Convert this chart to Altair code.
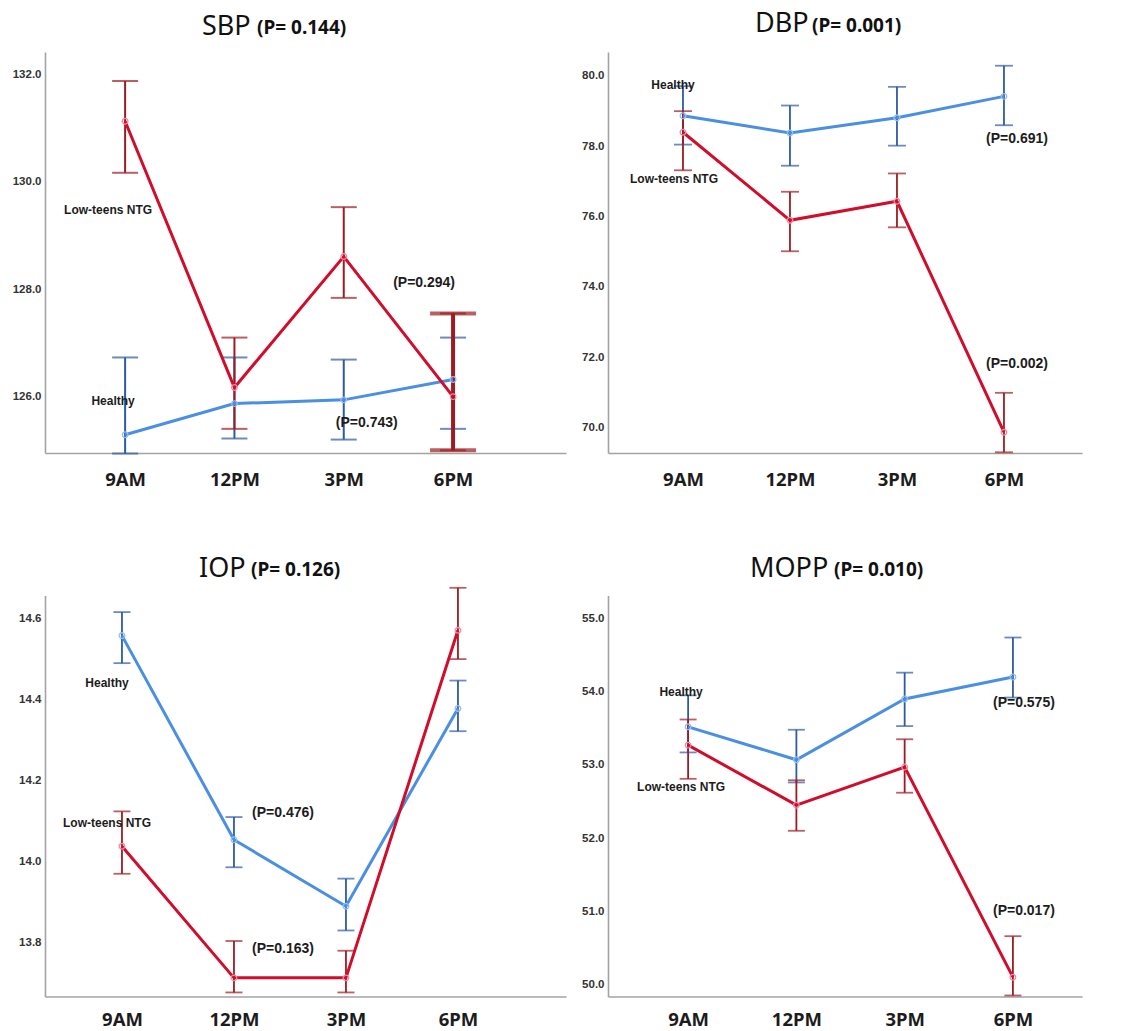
import altair as alt
import pandas as pd

# ---------------- data ----------------
times = ["9AM", "12PM", "3PM", "6PM"]
groups = ["Healthy", "Low-teens NTG"]

panel_names = ["SBP", "DBP", "IOP", "MOPP"]
panel_pvals = ["(P= 0.144)", "(P= 0.001)", "(P= 0.126)", "(P= 0.010)"]

# SBP
sbp_healthy_mean = [125.29, 125.87, 125.94, 126.32]
sbp_healthy_lo = [124.94, 125.22, 125.20, 125.40]
sbp_healthy_hi = [126.73, 126.73, 126.69, 127.10]
sbp_ntg_mean = [131.13, 126.17, 128.61, 126.00]
sbp_ntg_lo = [130.17, 125.40, 127.84, 125.00]
sbp_ntg_hi = [131.88, 127.10, 129.53, 127.55]

# DBP
dbp_healthy_mean = [78.86, 78.37, 78.80, 79.41]
dbp_healthy_lo = [78.04, 77.44, 78.01, 78.59]
dbp_healthy_hi = [79.70, 79.15, 79.68, 80.28]
dbp_ntg_mean = [78.39, 75.89, 76.43, 69.87]
dbp_ntg_lo = [77.31, 75.01, 75.69, 69.30]
dbp_ntg_hi = [78.99, 76.70, 77.22, 70.99]

# IOP
iop_healthy_mean = [14.558, 14.054, 13.890, 14.378]
iop_healthy_lo = [14.490, 13.986, 13.830, 14.322]
iop_healthy_hi = [14.616, 14.110, 13.958, 14.447]
iop_ntg_mean = [14.038, 13.713, 13.713, 14.571]
iop_ntg_lo = [13.970, 13.677, 13.677, 14.500]
iop_ntg_hi = [14.124, 13.804, 13.780, 14.676]

# MOPP
mopp_healthy_mean = [53.52, 53.07, 53.90, 54.20]
mopp_healthy_lo = [53.17, 52.76, 53.53, 53.92]
mopp_healthy_hi = [53.95, 53.48, 54.26, 54.74]
mopp_ntg_mean = [53.27, 52.45, 52.97, 50.10]
mopp_ntg_lo = [52.81, 52.10, 52.62, 49.85]
mopp_ntg_hi = [53.62, 52.79, 53.35, 50.66]

# y-axis ticks and ranges
sbp_ticks = [126.0, 128.0, 130.0, 132.0]
dbp_ticks = [70.0, 72.0, 74.0, 76.0, 78.0, 80.0]
iop_ticks = [13.8, 14.0, 14.2, 14.4, 14.6]
mopp_ticks = [50.0, 51.0, 52.0, 53.0, 54.0, 55.0]
sbp_range = [124.95, 132.42]
dbp_range = [69.28, 80.67]
iop_range = [13.667, 14.657]
mopp_range = [49.836, 55.314]

# annotations: (text, time, value)
sbp_notes = [("Low-teens NTG", "9AM", 129.47), ("Healthy", "9AM", 125.91),
             ("(P=0.294)", "6PM", 128.11), ("(P=0.743)", "3PM", 125.50)]
dbp_notes = [("Healthy", "9AM", 79.74), ("Low-teens NTG", "9AM", 77.05),
             ("(P=0.691)", "6PM", 78.21), ("(P=0.002)", "6PM", 71.82)]
iop_notes = [("Healthy", "9AM", 14.442), ("Low-teens NTG", "9AM", 14.096),
             ("(P=0.476)", "12PM", 14.121), ("(P=0.163)", "12PM", 13.785)]
mopp_notes = [("Healthy", "9AM", 54.00), ("Low-teens NTG", "9AM", 52.70),
              ("(P=0.575)", "6PM", 53.84), ("(P=0.017)", "6PM", 51.01)]

# ---------------- style / layout ----------------
LINE = {"Healthy": "#4a8fe2", "Low-teens NTG": "#d10d2c"}
BAR = {"Healthy": "#2d5ba3", "Low-teens NTG": "#9c1c22"}
PT = {"Healthy": "#94bdf0", "Low-teens NTG": "#ee8aa2"}
TXT = "#1c1c1c"

layouts = [
    dict(w=521, h=401, pad=0.883, align=0.415, tx=157, ty=-17.5, px=212, py=-18.5,
         cap=26, bw=2.0, dx=[-17, -12, -29, 23], lp=17),
    dict(w=474, h=401, pad=0.715, align=0.49, tx=147, ty=-20, px=204, py=-20.5,
         cap=18, bw=1.8, dx=[-10, -9, 13, 13], lp=17),
    dict(w=521, h=401, pad=0.826, align=0.416, tx=154, ty=-19, px=206, py=-19.5,
         cap=17, bw=1.8, dx=[-15, -15, 49, 49], lp=14),
    dict(w=474, h=401, pad=0.689, align=0.537, tx=142, ty=-19, px=226, py=-19.5,
         cap=17, bw=1.8, dx=[-7, -7, 11, 11], lp=14),
]

series = [
    (sbp_healthy_mean, sbp_healthy_lo, sbp_healthy_hi, sbp_ntg_mean, sbp_ntg_lo, sbp_ntg_hi),
    (dbp_healthy_mean, dbp_healthy_lo, dbp_healthy_hi, dbp_ntg_mean, dbp_ntg_lo, dbp_ntg_hi),
    (iop_healthy_mean, iop_healthy_lo, iop_healthy_hi, iop_ntg_mean, iop_ntg_lo, iop_ntg_hi),
    (mopp_healthy_mean, mopp_healthy_lo, mopp_healthy_hi, mopp_ntg_mean, mopp_ntg_lo, mopp_ntg_hi),
]
ticks_all = [sbp_ticks, dbp_ticks, iop_ticks, mopp_ticks]
ranges_all = [sbp_range, dbp_range, iop_range, mopp_range]
notes_all = [sbp_notes, dbp_notes, iop_notes, mopp_notes]


def make_panel(i):
    L = layouts[i]
    hm, hl, hh, nm, nl, nh = series[i]
    rows = []
    for g, (m, lo, hi) in zip(groups, [(hm, hl, hh), (nm, nl, nh)]):
        for k, t in enumerate(times):
            rows.append(dict(time=t, idx=k, group=g, mean=m[k], lo=lo[k], hi=hi[k]))
    df = pd.DataFrame(rows)

    xscale = alt.Scale(type="point", domain=times, padding=L["pad"], align=L["align"])
    xaxis = alt.Axis(title=None, labelAngle=0, ticks=False, labelFontSize=18.5,
                     labelFont="Noto Sans", labelFontWeight="bold", labelColor=TXT,
                     labelPadding=L["lp"], domainColor="#a3a3a3", domainWidth=1.6)
    yscale = alt.Scale(domain=ranges_all[i], nice=False, zero=False)
    yaxis = alt.Axis(title=None, values=ticks_all[i], format=".1f", ticks=False,
                     labelFontSize=11.5, labelFont="Liberation Sans", labelFontWeight="bold",
                     labelColor="#333333", labelPadding=4, domainColor="#a3a3a3",
                     domainWidth=1.6, grid=False)

    def X():
        return alt.X("time:N", sort=times, scale=xscale, axis=xaxis)

    def Y(f):
        return alt.Y(f + ":Q", scale=yscale, axis=yaxis)

    layers = []
    for g in groups:
        base = alt.Chart(df).transform_filter(alt.datum.group == g)
        layers.append(base.mark_rule(color=BAR[g], strokeWidth=L["bw"]).encode(
            x=X(), y=Y("lo"), y2="hi:Q"))
        layers.append(base.mark_tick(color=BAR[g], size=L["cap"], thickness=L["bw"]).encode(
            x=X(), y=Y("lo")))
        layers.append(base.mark_tick(color=BAR[g], size=L["cap"], thickness=L["bw"]).encode(
            x=X(), y=Y("hi")))
    if i == 0:
        thick = alt.Chart(df).transform_filter(
            (alt.datum.group == "Low-teens NTG") & (alt.datum.time == "6PM"))
        g = "Low-teens NTG"
        layers.append(thick.mark_rule(color=BAR[g], strokeWidth=4).encode(
            x=X(), y=Y("lo"), y2="hi:Q"))
        layers.append(thick.mark_tick(color=BAR[g], size=46, thickness=4).encode(
            x=X(), y=Y("lo")))
        layers.append(thick.mark_tick(color=BAR[g], size=46, thickness=4).encode(
            x=X(), y=Y("hi")))
    for g in groups:
        base = alt.Chart(df).transform_filter(alt.datum.group == g)
        layers.append(base.mark_line(color=LINE[g], strokeWidth=3).encode(
            x=X(), y=Y("mean"), order="idx:Q"))
    for g in groups:
        base = alt.Chart(df).transform_filter(alt.datum.group == g)
        layers.append(base.mark_point(color=PT[g], filled=False, size=32, strokeWidth=1.3,
                                      opacity=1).encode(x=X(), y=Y("mean")))

    for (txt, t, v), dx in zip(notes_all[i], L["dx"]):
        is_p = txt.startswith("(")
        nd = pd.DataFrame({"time": [t], "value": [v], "label": [txt]})
        layers.append(alt.Chart(nd).mark_text(
            dx=dx, align="center", baseline="middle", font="Liberation Sans",
            fontWeight="bold", fontSize=14 if is_p else 12, color=TXT
        ).encode(x=X(), y=Y("value"), text="label:N"))

    t1 = pd.DataFrame({"t": [panel_names[i]]})
    t2 = pd.DataFrame({"t": [panel_pvals[i]]})
    layers.append(alt.Chart(t1).mark_text(align="left", baseline="alphabetic", fontSize=27,
                                          font="Noto Sans", color="#111111").encode(
        x=alt.value(L["tx"]), y=alt.value(L["ty"]), text="t:N"))
    layers.append(alt.Chart(t2).mark_text(align="left", baseline="alphabetic", fontSize=19,
                                          font="Noto Sans", fontWeight="bold",
                                          color="#111111").encode(
        x=alt.value(L["px"]), y=alt.value(L["py"]), text="t:N"))

    return alt.layer(*layers).properties(width=L["w"], height=L["h"])


chart = alt.concat(
    *[make_panel(i) for i in range(4)],
    columns=2,
    spacing={"row": 142.5, "column": 42},
    bounds="flush",
    align="each",
).properties(
    padding={"left": 4, "top": 2, "right": 5, "bottom": 8},
    background="white",
).configure_view(stroke=None)

chart.save("out.html", embed_options={"renderer": "svg", "actions": False})
